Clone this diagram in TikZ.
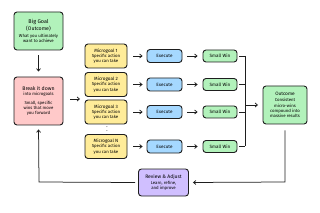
\documentclass[tikz,border=0pt]{standalone}
\usepackage{fontspec}
\setmainfont{Fira Sans}
\usetikzlibrary{arrows.meta}
\definecolor{cgreen}{HTML}{B2F2BB}
\definecolor{cpink}{HTML}{FFC9C9}
\definecolor{cyellow}{HTML}{FFEC99}
\definecolor{cblue}{HTML}{A5D8FF}
\definecolor{cpurple}{HTML}{D0BFFF}
\definecolor{cline}{HTML}{1E1E1E}
\tikzset{
  box/.style={draw=cline, line width=0.9pt, rounded corners=3pt, align=center, inner sep=0pt, font=\fontsize{4.3}{5.2}\selectfont},
  conn/.style={draw=cline, line width=0.75pt, -{Straight Barb[length=2.4pt,width=4pt]}},
  plain/.style={draw=cline, line width=0.75pt},
}
\begin{document}
\begin{tikzpicture}[x=1pt,y=-1pt]
\useasboundingbox (0,0) rectangle (320,213);
% main boxes
\node[box, fill=cgreen, minimum width=49pt, minimum height=38pt] (goal) at (38.5,31)
  {{\fontsize{5.4}{7}\selectfont Big Goal}\\{\fontsize{5.2}{7}\selectfont (Outcome)}\\[2pt]What you ultimately\\want to achieve};
\node[box, fill=cpink, minimum width=49pt, minimum height=48pt] (brk) at (38.5,101)
  {{\fontsize{5.2}{6.5}\selectfont Break it down}\\into microgoals\\[3.5pt]Small, specific\\wins that move\\you forward};
% microgoals
\foreach \i/\lab/\y in {1/1/56, 2/2/84.5, 3/3/112, 4/N/146.5}{
  \node[box, fill=cyellow, minimum width=42pt, minimum height=24pt] (mg\i) at (106,\y)
    {{\fontsize{4.6}{5.6}\selectfont Microgoal \lab}\\Specific action\\you can take};
  \node[box, fill=cblue, minimum width=35pt, minimum height=13pt] (ex\i) at (164.5,\y) {\fontsize{4.6}{5}\selectfont Execute};
  \node[box, fill=cgreen, minimum width=34pt, minimum height=12pt] (sw\i) at (220,\y) {\fontsize{4.6}{5}\selectfont Small Win};
  \draw[conn, shorten <=6pt, shorten >=4pt] (mg\i) -- (ex\i);
  \draw[conn, shorten <=5pt, shorten >=5pt] (ex\i) -- (sw\i);
  \coordinate (br\i) at (245,\y);
  \draw[plain, shorten <=2pt] (sw\i.east) -- (br\i);
}
\node[font=\fontsize{5.5}{5.5}\selectfont, inner sep=0pt] (dots) at (107,128.5) {$\vdots$};
% outcome
\node[box, fill=cgreen, minimum width=44pt, minimum height=38pt] (out) at (285,105)
  {{\fontsize{4.8}{6}\selectfont Outcome}\\[1pt]Consistent\\micro-wins\\compound into\\massive results};
% review
\node[box, fill=cpurple, minimum width=50pt, minimum height=27pt] (rev) at (163.5,182.5)
  {{\fontsize{5}{6.4}\selectfont Review \& Adjust}\\[1pt]Learn, refine,\\and improve};
% connectors
\draw[conn, shorten <=5pt, shorten >=5pt] (goal) -- (brk);
\coordinate (mgin) at (80,99);
\draw[conn] (70,99) -- (mgin);
\draw[plain] (br1) -- (br4);
\coordinate (outin) at (258,105);
\draw[conn] (245,105) -- (outin);
\coordinate (c1) at (285,182);
\draw[conn, shorten >=4pt] (out.south) ++(0,6) -- (c1) -- (rev.east);
\coordinate (c2) at (39,182);
\draw[conn, shorten >=4pt] ([xshift=-3pt]rev.west) -- (c2) -- (brk.south);
\end{tikzpicture}
\end{document}
